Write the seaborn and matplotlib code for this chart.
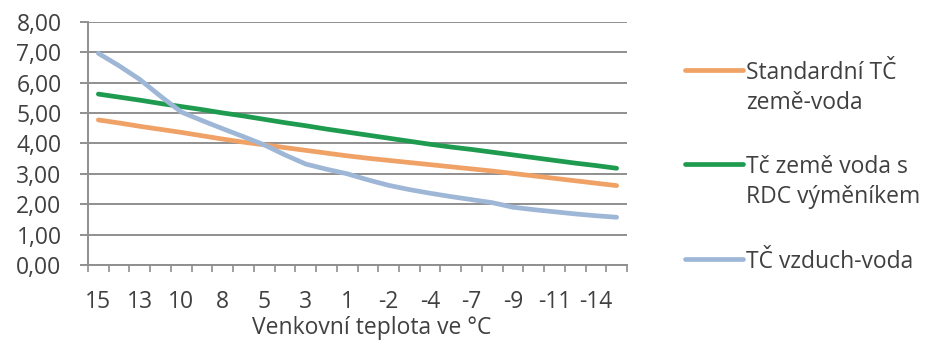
import numpy as np
import pandas as pd
import seaborn as sns
import matplotlib.pyplot as plt
from matplotlib.lines import Line2D
from matplotlib.ticker import FuncFormatter

# Outdoor temperature labels (every other category is labelled)
tick_labels = ["15", "13", "10", "8", "5", "3", "1", "-2", "-4", "-7", "-9", "-11", "-14"]

# COP values per category step
standard_ground = [4.77, 4.67, 4.56, 4.46, 4.36, 4.25, 4.14, 4.04, 3.95, 3.86, 3.77, 3.68, 3.59,
                   3.51, 3.44, 3.37, 3.30, 3.23, 3.16, 3.09, 3.01, 2.93, 2.85, 2.77, 2.69, 2.61]
rdc_ground = [5.62, 5.52, 5.42, 5.31, 5.21, 5.11, 5.00, 4.90, 4.79, 4.68, 4.58, 4.47, 4.37,
              4.27, 4.17, 4.07, 3.97, 3.88, 3.80, 3.71, 3.62, 3.53, 3.44, 3.35, 3.27, 3.18]
air_water = [6.96, 6.55, 6.10, 5.55, 5.03, 4.75, 4.48, 4.22, 3.95, 3.62, 3.32, 3.15, 3.00,
             2.80, 2.62, 2.48, 2.36, 2.25, 2.15, 2.05, 1.90, 1.82, 1.75, 1.68, 1.62, 1.57]

series_names = ["Standardní TČ\nzemě-voda", "Tč země voda s\nRDC výměníkem", "TČ vzduch-voda"]
series_colors = ["#F0A166", "#1F9B50", "#9FB7D6"]
x_title = "Venkovní teplota ve °C"

steps = np.arange(len(standard_ground))
df = pd.concat([
    pd.DataFrame({"step": steps, "cop": vals, "series": name})
    for name, vals in zip(series_names, [standard_ground, rdc_ground, air_water])
])

sns.set_theme(style="white")
plt.rcParams["font.family"] = ["Open Sans", "DejaVu Sans"]
text_color = "#404040"
grid_color = "#8f8f8f"
fsize = 16.5

W, H = 936, 345
fig = plt.figure(figsize=(W / 100, H / 100), dpi=100)
ax = fig.add_axes([88 / W, 1 - 265 / H, (627 - 88) / W, (265 - 21.7) / H])

sns.lineplot(data=df, x="step", y="cop", hue="series", palette=dict(zip(series_names, series_colors)),
             linewidth=3.4, legend=False, ax=ax, sort=False)
for ln in ax.get_lines():
    ln.set_solid_capstyle("round")

ax.set_xlim(-0.5, len(steps) - 0.5)
ax.set_ylim(0, 8)
ax.set_yticks(np.arange(0, 9, 1))
ax.yaxis.set_major_formatter(FuncFormatter(lambda v, p: f"{v:.2f}".replace(".", ",")))
ax.yaxis.grid(True, color=grid_color, linewidth=1.4)
ax.set_axisbelow(True)

ax.set_xticks(np.arange(0, len(steps), 2))
ax.set_xticklabels(tick_labels)
ax.set_xticks(np.arange(-0.5, len(steps), 1), minor=True)
ax.tick_params(axis="x", which="major", length=0, pad=18, labelsize=fsize, labelcolor=text_color)
ax.tick_params(axis="x", which="minor", length=5, width=1.2, color=grid_color, direction="out", bottom=True)
ax.tick_params(axis="y", which="major", length=6, width=1.4, color=grid_color, pad=13,
               labelsize=fsize, labelcolor=text_color, left=True)
ax.set_xlabel("")
ax.set_ylabel("")

for side in ["top", "right"]:
    ax.spines[side].set_visible(False)
for side in ["left", "bottom"]:
    ax.spines[side].set_color(grid_color)
    ax.spines[side].set_linewidth(1.4)

fig.text(372 / W, 1 - 328 / H, x_title, ha="center", va="center", fontsize=fsize, color=text_color)

# Legend drawn beside the plot, handle level with the first text line
legend_rows = [70, 164, 259]
for name, color, y in zip(series_names, series_colors, legend_rows):
    fig.add_artist(Line2D([685 / W, 743 / W], [1 - y / H, 1 - y / H], color=color,
                          linewidth=3.4, transform=fig.transFigure))
    for k, line in enumerate(name.split("\n")):
        fig.text(746 / W, 1 - (y + 3 + 30 * k) / H, line, ha="left", va="center",
                 fontsize=fsize, color=text_color)

fig.savefig("out.png", dpi=100, facecolor="white")
